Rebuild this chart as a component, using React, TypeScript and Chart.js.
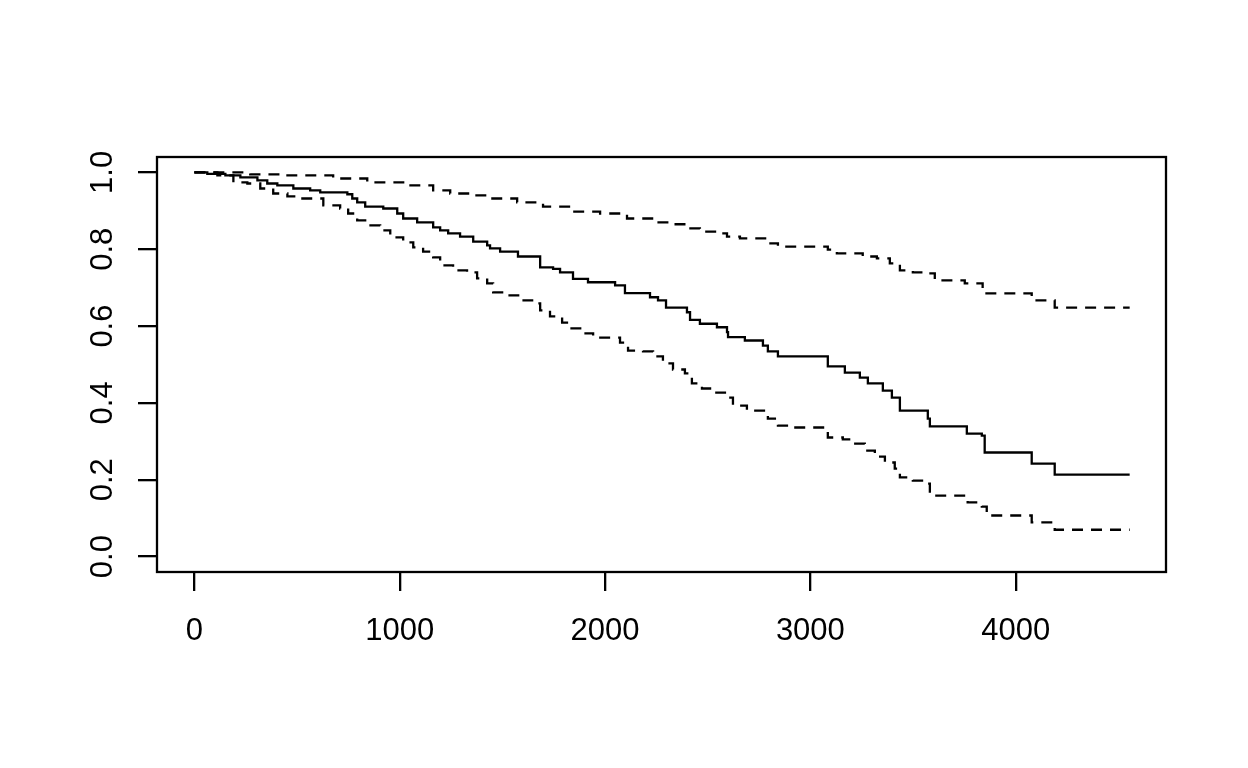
import React, { useEffect, useRef } from "react";
import { Chart, registerables } from "chart.js";

Chart.register(...registerables);

// Kaplan-Meier estimate (solid line)
const survTime = [0, 63, 151, 224, 307, 355, 404, 482, 564, 613, 745, 769, 793, 832, 920, 988, 1017, 1085, 1163, 1197, 1236, 1294, 1358, 1426, 1440, 1489, 1576, 1684, 1747, 1781, 1844, 1917, 2049, 2097, 2219, 2258, 2297, 2399, 2414, 2462, 2545, 2594, 2599, 2681, 2769, 2793, 2842, 3085, 3168, 3241, 3280, 3353, 3397, 3436, 3572, 3582, 3762, 3835, 3849, 4078, 4190, 4555];
const survValue = [1.0, 0.996, 0.992, 0.987, 0.979, 0.971, 0.966, 0.958, 0.953, 0.948, 0.943, 0.932, 0.922, 0.911, 0.906, 0.893, 0.88, 0.87, 0.857, 0.849, 0.841, 0.833, 0.82, 0.81, 0.802, 0.794, 0.781, 0.753, 0.749, 0.74, 0.723, 0.714, 0.706, 0.686, 0.675, 0.667, 0.648, 0.636, 0.616, 0.606, 0.597, 0.584, 0.571, 0.5625, 0.549, 0.534, 0.521, 0.495, 0.479, 0.466, 0.451, 0.432, 0.414, 0.38, 0.359, 0.339, 0.32, 0.315, 0.271, 0.242, 0.2135, 0.2135];

// Upper confidence limit (dashed)
const upperTime = [0, 272, 433, 676, 842, 1017, 1163, 1246, 1358, 1440, 1572, 1698, 1844, 1976, 2107, 2253, 2331, 2399, 2462, 2545, 2594, 2657, 2788, 2842, 3085, 3129, 3255, 3324, 3387, 3436, 3499, 3567, 3606, 3752, 3839, 4078, 4190, 4555];
const upperValue = [1.0, 0.995, 0.992, 0.984, 0.974, 0.966, 0.953, 0.945, 0.94, 0.932, 0.922, 0.911, 0.898, 0.893, 0.88, 0.87, 0.865, 0.854, 0.846, 0.841, 0.833, 0.828, 0.815, 0.807, 0.799, 0.789, 0.781, 0.776, 0.763, 0.745, 0.74, 0.737, 0.719, 0.711, 0.685, 0.667, 0.648, 0.648];

// Lower confidence limit (dashed)
const lowerTime = [0, 112, 190, 258, 321, 384, 453, 516, 628, 710, 749, 793, 847, 905, 954, 1017, 1066, 1114, 1163, 1197, 1260, 1328, 1377, 1426, 1455, 1523, 1577, 1645, 1684, 1732, 1791, 1830, 1888, 1942, 2073, 2112, 2185, 2234, 2282, 2331, 2389, 2423, 2472, 2526, 2584, 2623, 2691, 2793, 2842, 2886, 3085, 3158, 3207, 3265, 3314, 3363, 3411, 3436, 3499, 3567, 3582, 3766, 3835, 3859, 4078, 4190, 4555];
const lowerValue = [1.0, 0.992, 0.974, 0.971, 0.958, 0.945, 0.9375, 0.932, 0.914, 0.906, 0.893, 0.875, 0.862, 0.849, 0.831, 0.818, 0.805, 0.794, 0.779, 0.758, 0.745, 0.74, 0.724, 0.711, 0.6875, 0.68, 0.667, 0.659, 0.641, 0.625, 0.609, 0.594, 0.581, 0.57, 0.557, 0.536, 0.534, 0.521, 0.503, 0.487, 0.477, 0.451, 0.4375, 0.427, 0.414, 0.393, 0.38, 0.359, 0.341, 0.336, 0.31, 0.305, 0.294, 0.276, 0.26, 0.245, 0.229, 0.206, 0.198, 0.19, 0.159, 0.141, 0.13, 0.107, 0.089, 0.07, 0.07];

const xTicks = [0, 1000, 2000, 3000, 4000];
const yTicks = [0, 0.2, 0.4, 0.6, 0.8, 1.0];

const FONT = "'Liberation Sans', Arial, sans-serif";
const FONT_SIZE = 31;
const LINE_W = 2.3;

const toPoints = (t: number[], v: number[]) => t.map((x, i) => ({ x, y: v[i] }));

const boxAndYLabels = {
  id: "boxAndYLabels",
  afterDraw(chart: any) {
    const { ctx, chartArea } = chart;
    ctx.save();
    ctx.strokeStyle = "#000";
    ctx.lineWidth = LINE_W;
    ctx.strokeRect(chartArea.left, chartArea.top, chartArea.right - chartArea.left, chartArea.bottom - chartArea.top);
    const ys = chart.scales.y;
    ctx.fillStyle = "#000";
    ctx.font = `${FONT_SIZE}px ${FONT}`;
    ctx.textAlign = "center";
    ctx.textBaseline = "alphabetic";
    yTicks.forEach((v) => {
      const py = ys.getPixelForValue(v);
      ctx.save();
      ctx.translate(112, py);
      ctx.rotate(-Math.PI / 2);
      ctx.fillText(v.toFixed(1), 0, 0);
      ctx.restore();
    });
    ctx.restore();
  },
};

export default function App() {
  const ref = useRef<HTMLCanvasElement | null>(null);
  useEffect(() => {
    if (!ref.current) return;
    const gridOpts = {
      display: true,
      drawOnChartArea: false,
      drawTicks: true,
      tickLength: 19,
      color: "#000",
      lineWidth: LINE_W,
    };
    const lineBase = {
      borderColor: "#000",
      borderWidth: LINE_W,
      pointRadius: 0,
      stepped: "before",
      fill: false,
    };
    const chart = new Chart(ref.current, {
      type: "line",
      data: {
        datasets: [
          { ...lineBase, data: toPoints(survTime, survValue) },
          { ...lineBase, data: toPoints(upperTime, upperValue), borderDash: [11, 8] },
          { ...lineBase, data: toPoints(lowerTime, lowerValue), borderDash: [11, 8] },
        ],
      },
      options: {
        responsive: false,
        animation: false,
        devicePixelRatio: 1,
        layout: { padding: { top: 157, right: 82, left: 0, bottom: 0 } },
        plugins: { legend: { display: false }, tooltip: { enabled: false } },
        scales: {
          x: {
            type: "linear",
            min: -182,
            max: 4732,
            afterBuildTicks: (s: any) => {
              s.ticks = xTicks.map((value) => ({ value }));
            },
            afterFit: (s: any) => {
              s.height = 196;
            },
            grid: gridOpts,
            border: { display: false },
            ticks: {
              color: "#000",
              font: { family: FONT, size: FONT_SIZE },
              padding: 22,
              maxRotation: 0,
              minRotation: 0,
              autoSkip: false,
              callback: (v: any) => String(v),
            },
          },
          y: {
            type: "linear",
            min: -0.04,
            max: 1.04,
            afterBuildTicks: (s: any) => {
              s.ticks = yTicks.map((value) => ({ value }));
            },
            afterFit: (s: any) => {
              s.width = 157;
            },
            grid: gridOpts,
            border: { display: false },
            ticks: { display: false },
          },
        },
      } as any,
      plugins: [boxAndYLabels],
    });
    return () => chart.destroy();
  }, []);
  return (
    <div style={{ position: "absolute", left: 0, top: 0, width: 1248, height: 768, background: "#fff" }}>
      <canvas ref={ref} width={1248} height={768} style={{ display: "block" }} />
    </div>
  );
}
